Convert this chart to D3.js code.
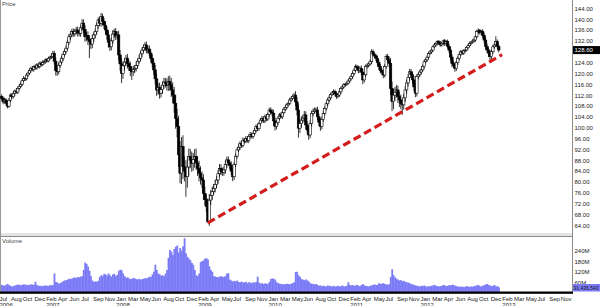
<!DOCTYPE html>
<html><head><meta charset="utf-8">
<script src="https://cdn.jsdelivr.net/npm/d3@7"></script>
<style>
body{margin:0;background:#fff;}
svg{display:block;font-family:"Liberation Sans",Arial,sans-serif;}
</style>
</head><body>
<svg id="c" width="600" height="306"></svg>
<script>
// ---------- DATA (weekly) ----------
const startWeek = "2006-06-23";
const firstOpen = 111.5;
const closes = [
110.8,109.5,110.2,109.0,107.9,110.1,112.0,111.4,112.6,113.5,113.1,114.5,115.2,116.0,117.3,118.2,118.0,119.4,120.1,121.0,
121.9,121.4,122.5,122.0,123.1,122.6,123.8,123.2,124.0,124.3,125.0,124.6,125.5,125.9,126.2,127.4,124.5,121.0,120.6,123.0,
124.2,125.6,127.0,128.1,129.3,131.5,133.5,134.2,135.4,134.6,135.5,136.0,135.0,134.8,136.8,138.5,136.2,133.5,134.0,132.5,
131.7,130.8,132.9,134.2,135.4,137.6,139.7,138.5,140.9,139.2,137.8,136.0,134.2,131.5,129.8,132.0,134.5,135.4,133.8,134.2,
126.8,123.5,120.0,122.8,124.2,125.6,123.6,122.5,121.0,120.6,121.5,121.9,123.0,124.5,125.6,127.2,128.6,129.5,130.5,128.6,
129.0,127.5,125.6,123.8,121.3,118.0,113.9,114.8,112.7,114.0,115.7,116.8,116.4,115.5,117.0,115.8,113.9,112.0,109.0,103.4,
100.4,90.0,83.2,93.0,85.6,84.0,81.9,85.5,89.3,88.0,86.9,88.2,89.3,87.0,85.0,83.2,81.5,80.7,75.8,73.5,
70.9,65.3,73.3,75.0,76.5,77.6,79.0,80.7,83.0,85.0,84.0,83.5,84.4,86.5,88.1,87.0,86.2,84.0,81.9,86.5,
89.5,91.8,92.8,94.2,93.5,95.4,95.0,96.0,95.2,96.7,97.5,96.8,97.9,99.0,100.4,99.6,101.5,102.8,103.4,102.5,
104.0,103.2,104.8,106.5,105.8,105.3,102.5,100.4,101.8,103.5,104.7,104.0,105.5,106.8,107.5,108.4,109.0,110.2,110.8,111.5,
112.0,109.5,106.5,99.8,101.5,102.8,103.5,104.7,101.0,99.1,97.3,101.5,105.3,106.0,106.5,106.5,104.0,102.0,100.4,103.0,
105.3,107.0,108.8,110.2,111.0,112.2,112.8,113.3,112.5,111.5,112.0,113.2,114.5,115.0,115.8,116.0,116.4,117.2,118.0,118.8,
120.0,121.2,122.5,122.0,121.0,121.9,120.5,117.6,119.5,122.5,123.0,123.5,124.3,128.0,127.0,126.5,125.6,124.0,122.5,121.0,
120.5,119.4,122.5,126.2,125.0,123.7,114.5,109.6,112.0,113.0,113.9,111.5,110.2,109.0,108.4,111.0,113.9,116.5,118.5,120.6,
119.5,117.6,115.0,112.7,118.8,119.5,120.5,121.3,122.5,124.3,125.0,126.0,127.4,127.9,128.6,129.8,130.5,131.0,131.7,131.2,
130.5,131.1,132.0,131.0,131.7,130.0,128.6,126.0,123.7,123.0,121.9,124.0,125.6,127.0,128.0,127.5,128.3,128.6,129.5,130.2,
131.1,131.5,131.9,132.3,133.5,135.4,135.8,135.0,135.4,134.0,132.3,130.0,128.6,127.5,126.2,128.0,129.8,130.5,131.7,130.0,128.6
];
const wickUp = [
.8,.6,.9,.7,1.0,.8,.6,.7,.9,.5,.8,.6,.7,.9,.6,.8,.5,.7,.6,.8,
.6,.7,.5,.8,.6,.7,.5,.6,.8,.7,.5,.6,.7,.6,.8,.9,1.0,1.4,1.2,1.0,
.8,.9,.7,.8,1.0,.9,1.1,.8,1.0,1.2,.9,1.1,1.3,1.0,1.2,1.5,1.4,1.6,1.3,1.5,
1.6,1.2,1.4,1.0,1.1,1.2,1.0,1.3,1.4,1.1,1.2,1.5,1.3,1.6,1.4,1.2,1.5,1.1,1.3,1.2,
1.5,1.8,2.0,1.6,1.4,1.2,1.6,1.4,1.8,1.5,1.3,1.2,1.4,1.0,1.2,1.1,1.0,1.2,1.0,1.3,
1.2,1.4,1.3,1.5,1.6,1.8,2.0,1.6,1.8,1.5,1.4,1.6,1.5,1.8,2.0,2.2,2.5,2.8,3.0,3.2,
3.5,4.0,5.0,3.5,4.2,3.8,4.0,3.5,3.0,2.8,3.2,2.5,2.8,3.0,2.5,2.8,2.6,2.4,2.2,2.5,
2.0,3.0,2.2,2.0,1.8,1.6,1.8,1.5,1.4,1.6,1.5,1.3,1.2,1.4,1.2,1.3,1.2,1.4,1.2,1.0,
1.0,.9,1.1,.8,.9,1.0,.8,.9,.7,.8,.9,.7,.8,.9,.8,1.0,.7,.8,.9,.7,
.8,.9,.7,.8,1.0,1.1,1.3,1.2,.9,.8,.7,.9,.8,.7,.8,.6,.7,.8,.6,.7,
.8,1.5,1.8,2.0,1.6,1.4,1.2,1.5,1.3,1.4,1.6,1.2,1.0,1.1,.9,1.0,1.2,1.1,1.3,1.0,
.9,.8,.7,.8,.9,.7,.6,.8,.7,.6,.7,.8,.6,.7,.6,.5,.6,.7,.6,.8,
.7,.6,.8,.7,.9,.8,1.0,1.2,.9,.8,.7,.6,.8,.9,.8,.7,.8,.9,1.0,.9,
.8,1.0,.9,.8,1.0,1.2,2.0,2.5,2.2,2.0,1.8,1.6,1.8,2.0,1.6,1.5,1.4,1.3,1.2,1.1,
1.0,1.2,1.3,1.4,1.0,.9,.8,.7,.8,.7,.6,.7,.6,.7,.5,.6,.7,.6,.5,.6,
.7,.6,.5,.7,.6,.8,.9,1.0,1.1,.9,1.0,.8,.9,.7,.6,.7,.6,.5,.6,.7,
.6,.5,.7,.6,.5,.7,.8,.6,.7,.9,1.0,1.1,1.0,.9,1.2,.8,.7,.6,2.0,.8,.7
];
const wickDn = [
.7,.9,.6,1.0,.8,.6,.7,.9,.6,.8,.5,.7,.8,.6,.7,.5,.8,.6,.7,.5,
.7,.6,.8,.5,.7,.6,.8,.7,.5,.6,.7,.6,.5,.7,.6,.5,1.2,1.8,1.5,1.0,
.9,.8,1.0,.7,.9,.8,1.0,1.2,.9,1.1,1.0,1.2,1.4,1.1,1.3,1.0,1.5,1.8,1.6,2.0,
6.0,1.8,1.5,1.3,1.2,1.0,1.2,1.1,1.3,1.5,1.4,1.6,1.8,2.0,1.5,1.3,1.2,1.4,1.5,1.3,
2.0,2.5,3.6,2.0,1.8,1.5,1.8,1.6,2.0,3.0,1.5,1.4,1.2,1.3,1.0,1.1,1.2,1.0,1.1,1.2,
1.3,1.2,1.5,1.6,1.8,2.0,2.2,1.8,2.0,1.6,1.5,1.4,1.6,1.8,2.0,2.2,2.6,3.0,3.5,3.8,
4.0,4.5,3.7,4.0,4.5,3.8,7.4,4.0,3.5,3.0,3.2,2.8,3.0,2.6,2.8,3.0,2.5,2.8,2.4,2.2,
2.0,.5,1.5,1.8,1.6,1.4,1.5,1.3,1.4,1.2,1.5,1.3,1.2,1.4,1.3,1.2,1.5,1.4,1.6,1.2,
1.0,.9,.8,1.0,.9,.8,.9,.7,.8,.9,.7,.8,.9,.7,.8,.9,.7,.8,.9,.8,
.8,.9,.7,1.0,.9,1.2,1.8,1.5,1.0,.9,.8,.7,.8,.6,.7,.8,.6,.7,.6,.7,
.8,1.5,2.0,3.5,1.8,1.5,1.2,1.4,1.6,1.5,1.8,1.2,1.0,1.1,.9,1.0,1.2,1.4,1.6,1.0,
.9,.8,.7,.9,.8,.7,.6,.8,1.0,.9,.7,.6,.8,.7,.6,.7,.6,.5,.7,.6,
.7,.8,.6,.9,1.0,.8,1.2,1.6,1.0,.8,.7,.8,.6,.9,.8,.9,1.0,1.1,1.2,1.0,
1.0,1.2,.9,.8,1.0,1.5,2.5,3.5,2.8,2.2,2.0,2.4,2.6,2.2,3.7,1.8,1.5,1.4,1.3,1.2,
1.2,1.4,1.6,1.5,1.2,1.0,.9,.8,.7,.8,.6,.7,.6,.5,.7,.6,.5,.7,.6,.8,
.7,.6,.8,.9,.7,.8,1.0,1.2,1.4,1.1,1.3,1.0,.9,.8,.7,.6,.7,.6,.5,.7,
.6,.7,.5,.6,.7,.6,.8,.7,.9,1.0,1.2,1.3,1.2,1.5,1.4,.9,.8,.7,.6,.8,.9
];
// weekly volume, millions of shares
const volumes = [
45,42,40,46,50,44,40,36,38,42,44,47,45,43,46,48,47,45,44,46,
48,47,45,63,45,41,39,40,38,41,42,40,39,44,43,44,110,62,58,52,
55,60,66,70,72,75,80,78,82,85,88,84,90,88,92,95,130,172,165,150,
125,95,70,62,65,63,68,90,100,95,108,105,98,110,100,92,105,108,95,102,
125,132,128,110,95,85,88,82,78,80,84,82,78,76,80,75,78,80,84,82,
86,92,90,105,120,160,130,110,105,98,100,95,110,130,200,244,235,215,250,262,
270,230,255,240,265,311,225,205,195,185,170,160,130,100,95,110,175,180,185,195,
197,190,150,130,120,95,92,90,88,92,95,90,92,95,110,111,75,70,65,68,
65,70,62,60,64,58,60,62,55,60,58,55,60,58,62,92,58,52,55,50,
54,52,50,62,78,82,80,75,60,55,52,50,48,50,48,52,50,48,52,55,
60,118,120,100,90,78,75,72,76,70,65,55,52,50,48,50,45,40,42,38,
40,38,36,42,40,38,36,40,35,38,40,36,38,42,36,38,40,60,45,42,
44,40,42,45,40,38,44,50,42,40,38,36,40,42,45,48,44,46,55,50,
52,55,50,48,46,50,90,134,100,88,80,75,70,72,66,68,62,60,58,55,
50,48,45,42,40,38,36,40,38,42,36,35,38,37,40,42,45,40,38,36,
38,40,45,42,38,40,44,42,46,45,40,38,36,35,34,36,32,35,38,36,
34,36,35,38,40,42,45,38,36,40,44,48,50,45,42,38,40,44,36,38,31.4
];
const priceTicks = [144,140,136,132,124,120,116,112,108,104,100,96,92,88,84,80,76,72,68,64];
const volumeTicks = [60,120,180,240];
const lastPrice = 128.60;
const lastVolumeText = "31,436,543";
const trendDates = ["2009-03-06","2013-01-13"];
const trendPrices = [64.9,126.9];
// bottom axis: a label every 8 weekly bars
const barsPerLabel = 8;
const monthLabels = ["Jul","Aug","Oct","Dec","Feb","Apr","Jun","Jul","Sep","Nov",
"Jan","Mar","May","Jun","Aug","Oct","Dec","Feb","Apr","May","Jul","Sep","Nov",
"Jan","Mar","May","Jun","Aug","Oct","Dec","Feb","Apr","May","Jul","Sep","Nov",
"Jan","Mar","Apr","Jun","Aug","Oct","Dec","Feb","Mar","May","Jul","Sep","Nov"];
const yearLabelAt = [0,4,10,17,23,30,36,43];
const yearLabels = ["2006","2007","2008","2009","2010","2011","2012","2013"];

// ---------- CHART ----------
const svg = d3.select("#c");
const plotRight = 572.5, mainBottom = 233, volTop = 236.5, volBase = 292.8;
const parseD = d3.timeParse("%Y-%m-%d");
const x = d3.scaleTime().domain([new Date(2008,0,1), new Date(2013,0,1)]).range([118, 499.6]);
const y = d3.scaleLinear().domain([144,64]).range([8.3,225.3]);
const yv = d3.scaleLinear().domain([0,240]).range([volBase,250.7]);
const t0 = parseD(startWeek);
const data = closes.map((c,i)=>{
  const o = i ? closes[i-1] : firstOpen;
  return {date:d3.timeDay.offset(t0,7*i), o, c,
    h:Math.max(o,c)+(wickUp[i]||0.6), l:Math.min(o,c)-(wickDn[i]||0.6), v:volumes[i]||0};
});

const defs = svg.append("defs");
defs.append("clipPath").attr("id","mainClip").append("rect").attr("x",0).attr("y",0).attr("width",plotRight).attr("height",mainBottom);
defs.append("clipPath").attr("id","volClip").append("rect").attr("x",0).attr("y",volTop).attr("width",plotRight).attr("height",volBase-volTop);

// panel frame
svg.append("rect").attr("x",0).attr("y",mainBottom).attr("width",plotRight).attr("height",volTop-mainBottom).attr("fill","#e4e4e4");
svg.append("line").attr("x1",0).attr("x2",plotRight).attr("y1",volTop).attr("y2",volTop).attr("stroke","#8a8a8a").attr("stroke-width",1);
svg.append("line").attr("x1",0.5).attr("x2",0.5).attr("y1",0).attr("y2",volBase).attr("stroke","#9a9a9a").attr("stroke-width",1);

// volume bars
const bw = 76.3/52.18;
svg.append("g").attr("clip-path","url(#volClip)").selectAll("rect").data(data).join("rect")
  .attr("x",d=>x(d.date)-bw/2).attr("width",bw+0.35)
  .attr("y",d=>yv(d.v)).attr("height",d=>yv(0)-yv(d.v))
  .attr("fill","#7b7bf6");

// candles
const cg = svg.append("g").attr("clip-path","url(#mainClip)");
const candle = cg.selectAll("g").data(data).join("g");
candle.append("line")
  .attr("x1",d=>x(d.date)).attr("x2",d=>x(d.date))
  .attr("y1",d=>y(d.h)).attr("y2",d=>y(d.l))
  .attr("stroke","#000").attr("stroke-width",0.8);
candle.append("rect")
  .attr("x",d=>x(d.date)-1.2).attr("width",2.4)
  .attr("y",d=>y(Math.max(d.o,d.c)))
  .attr("height",d=>Math.max(0.6, Math.abs(y(d.o)-y(d.c))))
  .attr("fill",d=>d.c>=d.o?"#fff":"#000")
  .attr("stroke","#000").attr("stroke-width",0.6);

// trend line
svg.append("path")
  .datum(trendDates.map((d,i)=>({date:parseD(d),p:trendPrices[i]})))
  .attr("d",d3.line().x(d=>x(d.date)).y(d=>y(d.p)))
  .attr("fill","none").attr("stroke","#d41c1c").attr("stroke-width",3.2)
  .attr("stroke-dasharray","8,4");

// right axes
const axisFont = g => g.selectAll("text").attr("font-size","6px").attr("fill","#222")
  .attr("font-family","'Liberation Sans',Arial,sans-serif");
const pAxis = svg.append("g").attr("transform",`translate(${plotRight},0)`)
  .call(d3.axisRight(y).tickValues(priceTicks).tickFormat(d3.format(".2f")).tickSize(0).tickPadding(2));
pAxis.select(".domain").remove(); axisFont(pAxis);
const vAxis = svg.append("g").attr("transform",`translate(${plotRight},0)`)
  .call(d3.axisRight(yv).tickValues(volumeTicks).tickFormat(d=>d+"M").tickSize(0).tickPadding(2));
vAxis.select(".domain").remove(); axisFont(vAxis);
svg.append("line").attr("x1",plotRight).attr("x2",plotRight).attr("y1",0).attr("y2",volBase+0.5)
  .attr("stroke","#8c8c8c").attr("stroke-width",1);

// last value boxes
svg.append("rect").attr("x",plotRight+0.5).attr("y",y(lastPrice)-4).attr("width",28).attr("height",8).attr("fill","#000");
svg.append("text").attr("x",plotRight+2).attr("y",y(lastPrice)+2.2).text(d3.format(".2f")(lastPrice))
  .attr("font-size","6px").attr("fill","#fff");
svg.append("rect").attr("x",plotRight+0.5).attr("y",284).attr("width",28).attr("height",7.5).attr("fill","#7b7bf6");
svg.append("text").attr("x",plotRight+1).attr("y",290).text(lastVolumeText)
  .attr("font-size","5.2px").attr("fill","#111").attr("textLength",25).attr("lengthAdjust","spacingAndGlyphs");

// bottom axis
svg.append("rect").attr("x",0).attr("y",volBase-1.3).attr("width",plotRight+0.5).attr("height",2.3).attr("fill","#000");
const tickDates = monthLabels.map((m,k)=>d3.timeDay.offset(t0, 7*(barsPerLabel*k-1)));
const mAxis = svg.append("g")
  .call(d3.axisBottom(x).tickValues(tickDates).tickFormat((d,i)=>monthLabels[i]).tickSize(0));
mAxis.select(".domain").remove(); axisFont(mAxis);
mAxis.selectAll("text").attr("y",300.5).attr("dy",0).attr("text-anchor","start").attr("dx",-1.3);
const yAxis = svg.append("g")
  .call(d3.axisBottom(x).tickValues(yearLabelAt.map(k=>tickDates[k])).tickFormat((d,i)=>yearLabels[i]).tickSize(0));
yAxis.select(".domain").remove(); axisFont(yAxis);
yAxis.selectAll("text").attr("y",306.5).attr("dy",0).attr("text-anchor","start").attr("dx",-1.3);

// panel titles
svg.append("text").attr("x",2).attr("y",6).text("Price").attr("font-size","6px").attr("fill","#444");
svg.append("text").attr("x",2).attr("y",243).text("Volume").attr("font-size","6px").attr("fill","#444");
</script>
</body></html>
